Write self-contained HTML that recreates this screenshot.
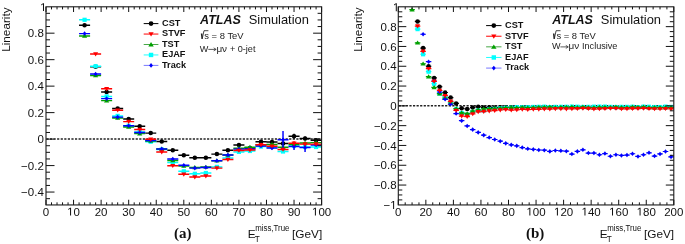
<!DOCTYPE html><html><head><meta charset="utf-8"><style>html,body{margin:0;padding:0;background:#fff;}svg{display:block;will-change:transform;}text{font-family:"Liberation Sans", sans-serif;}</style></head><body>
<svg width="685" height="244" viewBox="0 0 685 244">
<rect width="685" height="244" fill="#fff"/>
<line x1="46.00" y1="139.10" x2="321.60" y2="139.10" stroke="#222" stroke-width="1.5" stroke-dasharray="2.2 1.37" stroke-dashoffset="-0.4"/>
<path d="M79.07,25.20H90.10M90.10,66.80H101.12M101.12,92.00H112.14M112.14,108.50H123.17M123.17,118.90H134.19M134.19,126.20H145.22M145.22,133.10H156.24M156.24,141.40H167.26M167.26,150.20H178.29M178.29,155.30H189.31M189.31,157.80H200.34M200.34,157.80H211.36M211.36,154.10H222.38M222.38,150.20H233.41M233.41,145.00H244.43M244.43,148.00H255.46M255.46,141.70H266.48M266.48,141.90H277.50M277.50,143.50H288.53M288.53,136.20H299.55M294.04,133.70V138.70M299.55,138.40H310.58M305.06,136.40V140.40M310.58,140.20H321.60" stroke="#000000" stroke-width="1.45" fill="none"/>
<circle cx="84.58" cy="25.20" r="2.25" fill="#000000"/><circle cx="95.61" cy="66.80" r="2.25" fill="#000000"/><circle cx="106.63" cy="92.00" r="2.25" fill="#000000"/><circle cx="117.66" cy="108.50" r="2.25" fill="#000000"/><circle cx="128.68" cy="118.90" r="2.25" fill="#000000"/><circle cx="139.70" cy="126.20" r="2.25" fill="#000000"/><circle cx="150.73" cy="133.10" r="2.25" fill="#000000"/><circle cx="161.75" cy="141.40" r="2.25" fill="#000000"/><circle cx="172.78" cy="150.20" r="2.25" fill="#000000"/><circle cx="183.80" cy="155.30" r="2.25" fill="#000000"/><circle cx="194.82" cy="157.80" r="2.25" fill="#000000"/><circle cx="205.85" cy="157.80" r="2.25" fill="#000000"/><circle cx="216.87" cy="154.10" r="2.25" fill="#000000"/><circle cx="227.90" cy="150.20" r="2.25" fill="#000000"/><circle cx="238.92" cy="145.00" r="2.25" fill="#000000"/><circle cx="249.94" cy="148.00" r="2.25" fill="#000000"/><circle cx="260.97" cy="141.70" r="2.25" fill="#000000"/><circle cx="271.99" cy="141.90" r="2.25" fill="#000000"/><circle cx="283.02" cy="143.50" r="2.25" fill="#000000"/><circle cx="294.04" cy="136.20" r="2.25" fill="#000000"/><circle cx="305.06" cy="138.40" r="2.25" fill="#000000"/><circle cx="316.09" cy="140.20" r="2.25" fill="#000000"/>
<path d="M79.07,19.80H90.10M90.10,66.20H101.12M101.12,96.40H112.14M112.14,115.90H123.17M123.17,125.70H134.19M134.19,131.90H145.22M145.22,141.70H156.24M156.24,149.50H167.26M167.26,162.50H178.29M178.29,171.30H189.31M189.31,173.80H200.34M200.34,173.00H211.36M211.36,166.90H222.38M222.38,158.00H233.41M233.41,151.90H244.43M244.43,151.00H255.46M255.46,146.60H266.48M266.48,147.00H277.50M277.50,151.50H288.53M288.53,146.00H299.55M299.55,147.00H310.58M310.58,147.00H321.60" stroke="#00ffff" stroke-width="1.45" fill="none"/>
<rect x="82.48" y="17.70" width="4.20" height="4.20" fill="#00ffff"/><rect x="93.51" y="64.10" width="4.20" height="4.20" fill="#00ffff"/><rect x="104.53" y="94.30" width="4.20" height="4.20" fill="#00ffff"/><rect x="115.56" y="113.80" width="4.20" height="4.20" fill="#00ffff"/><rect x="126.58" y="123.60" width="4.20" height="4.20" fill="#00ffff"/><rect x="137.60" y="129.80" width="4.20" height="4.20" fill="#00ffff"/><rect x="148.63" y="139.60" width="4.20" height="4.20" fill="#00ffff"/><rect x="159.65" y="147.40" width="4.20" height="4.20" fill="#00ffff"/><rect x="170.68" y="160.40" width="4.20" height="4.20" fill="#00ffff"/><rect x="181.70" y="169.20" width="4.20" height="4.20" fill="#00ffff"/><rect x="192.72" y="171.70" width="4.20" height="4.20" fill="#00ffff"/><rect x="203.75" y="170.90" width="4.20" height="4.20" fill="#00ffff"/><rect x="214.77" y="164.80" width="4.20" height="4.20" fill="#00ffff"/><rect x="225.80" y="155.90" width="4.20" height="4.20" fill="#00ffff"/><rect x="236.82" y="149.80" width="4.20" height="4.20" fill="#00ffff"/><rect x="247.84" y="148.90" width="4.20" height="4.20" fill="#00ffff"/><rect x="258.87" y="144.50" width="4.20" height="4.20" fill="#00ffff"/><rect x="269.89" y="144.90" width="4.20" height="4.20" fill="#00ffff"/><rect x="280.92" y="149.40" width="4.20" height="4.20" fill="#00ffff"/><rect x="291.94" y="143.90" width="4.20" height="4.20" fill="#00ffff"/><rect x="302.96" y="144.90" width="4.20" height="4.20" fill="#00ffff"/><rect x="313.99" y="144.90" width="4.20" height="4.20" fill="#00ffff"/>
<path d="M79.07,35.90H90.10M90.10,75.40H101.12M101.12,100.60H112.14M112.14,118.00H123.17M123.17,127.00H134.19M134.19,133.60H145.22M145.22,141.00H156.24M156.24,149.00H167.26M167.26,160.50H178.29M178.29,166.00H189.31M189.31,167.40H200.34M200.34,167.00H211.36M211.36,160.70H222.38M222.38,155.00H233.41M233.41,148.20H244.43M244.43,147.20H255.46M255.46,144.80H266.48M266.48,144.40H277.50M277.50,147.20H288.53M288.53,144.40H299.55M299.55,143.00H310.58M310.58,142.60H321.60" stroke="#00a000" stroke-width="1.45" fill="none"/>
<path d="M81.98,37.72 L87.18,37.72 L84.58,33.56 Z" fill="#00a000"/><path d="M93.01,77.22 L98.21,77.22 L95.61,73.06 Z" fill="#00a000"/><path d="M104.03,102.42 L109.23,102.42 L106.63,98.26 Z" fill="#00a000"/><path d="M115.06,119.82 L120.26,119.82 L117.66,115.66 Z" fill="#00a000"/><path d="M126.08,128.82 L131.28,128.82 L128.68,124.66 Z" fill="#00a000"/><path d="M137.10,135.42 L142.30,135.42 L139.70,131.26 Z" fill="#00a000"/><path d="M148.13,142.82 L153.33,142.82 L150.73,138.66 Z" fill="#00a000"/><path d="M159.15,150.82 L164.35,150.82 L161.75,146.66 Z" fill="#00a000"/><path d="M170.18,162.32 L175.38,162.32 L172.78,158.16 Z" fill="#00a000"/><path d="M181.20,167.82 L186.40,167.82 L183.80,163.66 Z" fill="#00a000"/><path d="M192.22,169.22 L197.42,169.22 L194.82,165.06 Z" fill="#00a000"/><path d="M203.25,168.82 L208.45,168.82 L205.85,164.66 Z" fill="#00a000"/><path d="M214.27,162.52 L219.47,162.52 L216.87,158.36 Z" fill="#00a000"/><path d="M225.30,156.82 L230.50,156.82 L227.90,152.66 Z" fill="#00a000"/><path d="M236.32,150.02 L241.52,150.02 L238.92,145.86 Z" fill="#00a000"/><path d="M247.34,149.02 L252.54,149.02 L249.94,144.86 Z" fill="#00a000"/><path d="M258.37,146.62 L263.57,146.62 L260.97,142.46 Z" fill="#00a000"/><path d="M269.39,146.22 L274.59,146.22 L271.99,142.06 Z" fill="#00a000"/><path d="M280.42,149.02 L285.62,149.02 L283.02,144.86 Z" fill="#00a000"/><path d="M291.44,146.22 L296.64,146.22 L294.04,142.06 Z" fill="#00a000"/><path d="M302.46,144.82 L307.66,144.82 L305.06,140.66 Z" fill="#00a000"/><path d="M313.49,144.42 L318.69,144.42 L316.09,140.26 Z" fill="#00a000"/>
<path d="M79.07,33.60H90.10M90.10,74.00H101.12M101.12,98.60H112.14M112.14,117.10H123.17M123.17,125.70H134.19M134.19,132.50H145.22M145.22,140.50H156.24M156.24,148.90H167.26M167.26,159.00H178.29M178.29,165.20H189.31M189.31,168.10H200.34M200.34,167.40H211.36M211.36,160.70H222.38M222.38,155.00H233.41M233.41,149.10H244.43M244.43,149.00H255.46M255.46,146.00H266.48M266.48,147.90H277.50M271.99,146.40V149.40M277.50,139.80H288.53M283.02,131.00V150.00M288.53,146.50H299.55M294.04,143.50V150.00M299.55,147.50H310.58M305.06,143.00V152.00M310.58,145.00H321.60" stroke="#0000ff" stroke-width="1.45" fill="none"/>
<path d="M84.58,31.30 L86.42,33.60 L84.58,35.90 L82.74,33.60 Z" fill="#0000ff"/><path d="M95.61,71.70 L97.45,74.00 L95.61,76.30 L93.77,74.00 Z" fill="#0000ff"/><path d="M106.63,96.30 L108.47,98.60 L106.63,100.90 L104.79,98.60 Z" fill="#0000ff"/><path d="M117.66,114.80 L119.50,117.10 L117.66,119.40 L115.82,117.10 Z" fill="#0000ff"/><path d="M128.68,123.40 L130.52,125.70 L128.68,128.00 L126.84,125.70 Z" fill="#0000ff"/><path d="M139.70,130.20 L141.54,132.50 L139.70,134.80 L137.86,132.50 Z" fill="#0000ff"/><path d="M150.73,138.20 L152.57,140.50 L150.73,142.80 L148.89,140.50 Z" fill="#0000ff"/><path d="M161.75,146.60 L163.59,148.90 L161.75,151.20 L159.91,148.90 Z" fill="#0000ff"/><path d="M172.78,156.70 L174.62,159.00 L172.78,161.30 L170.94,159.00 Z" fill="#0000ff"/><path d="M183.80,162.90 L185.64,165.20 L183.80,167.50 L181.96,165.20 Z" fill="#0000ff"/><path d="M194.82,165.80 L196.66,168.10 L194.82,170.40 L192.98,168.10 Z" fill="#0000ff"/><path d="M205.85,165.10 L207.69,167.40 L205.85,169.70 L204.01,167.40 Z" fill="#0000ff"/><path d="M216.87,158.40 L218.71,160.70 L216.87,163.00 L215.03,160.70 Z" fill="#0000ff"/><path d="M227.90,152.70 L229.74,155.00 L227.90,157.30 L226.06,155.00 Z" fill="#0000ff"/><path d="M238.92,146.80 L240.76,149.10 L238.92,151.40 L237.08,149.10 Z" fill="#0000ff"/><path d="M249.94,146.70 L251.78,149.00 L249.94,151.30 L248.10,149.00 Z" fill="#0000ff"/><path d="M260.97,143.70 L262.81,146.00 L260.97,148.30 L259.13,146.00 Z" fill="#0000ff"/><path d="M271.99,145.60 L273.83,147.90 L271.99,150.20 L270.15,147.90 Z" fill="#0000ff"/><path d="M283.02,137.50 L284.86,139.80 L283.02,142.10 L281.18,139.80 Z" fill="#0000ff"/><path d="M294.04,144.20 L295.88,146.50 L294.04,148.80 L292.20,146.50 Z" fill="#0000ff"/><path d="M305.06,145.20 L306.90,147.50 L305.06,149.80 L303.22,147.50 Z" fill="#0000ff"/><path d="M316.09,142.70 L317.93,145.00 L316.09,147.30 L314.25,145.00 Z" fill="#0000ff"/>
<path d="M90.10,54.00H101.12M101.12,88.80H112.14M112.14,110.20H123.17M123.17,121.60H134.19M134.19,129.40H145.22M145.22,139.30H156.24M156.24,152.00H167.26M167.26,165.70H178.29M178.29,174.30H189.31M189.31,177.00H200.34M200.34,176.00H211.36M211.36,168.10H222.38M222.38,159.50H233.41M233.41,150.40H244.43M244.43,150.00H255.46M255.46,144.80H266.48M266.48,146.20H277.50M277.50,149.40H288.53M288.53,143.30H299.55M294.04,141.30V145.30M299.55,144.10H310.58M310.58,144.10H321.60" stroke="#ff0000" stroke-width="1.45" fill="none"/>
<path d="M93.11,52.25 L98.11,52.25 L95.61,56.38 Z" fill="#ff0000"/><path d="M104.13,87.05 L109.13,87.05 L106.63,91.17 Z" fill="#ff0000"/><path d="M115.16,108.45 L120.16,108.45 L117.66,112.58 Z" fill="#ff0000"/><path d="M126.18,119.85 L131.18,119.85 L128.68,123.97 Z" fill="#ff0000"/><path d="M137.20,127.65 L142.20,127.65 L139.70,131.78 Z" fill="#ff0000"/><path d="M148.23,137.55 L153.23,137.55 L150.73,141.68 Z" fill="#ff0000"/><path d="M159.25,150.25 L164.25,150.25 L161.75,154.38 Z" fill="#ff0000"/><path d="M170.28,163.95 L175.28,163.95 L172.78,168.07 Z" fill="#ff0000"/><path d="M181.30,172.55 L186.30,172.55 L183.80,176.68 Z" fill="#ff0000"/><path d="M192.32,175.25 L197.32,175.25 L194.82,179.38 Z" fill="#ff0000"/><path d="M203.35,174.25 L208.35,174.25 L205.85,178.38 Z" fill="#ff0000"/><path d="M214.37,166.35 L219.37,166.35 L216.87,170.47 Z" fill="#ff0000"/><path d="M225.40,157.75 L230.40,157.75 L227.90,161.88 Z" fill="#ff0000"/><path d="M236.42,148.65 L241.42,148.65 L238.92,152.78 Z" fill="#ff0000"/><path d="M247.44,148.25 L252.44,148.25 L249.94,152.38 Z" fill="#ff0000"/><path d="M258.47,143.05 L263.47,143.05 L260.97,147.18 Z" fill="#ff0000"/><path d="M269.49,144.45 L274.49,144.45 L271.99,148.57 Z" fill="#ff0000"/><path d="M280.52,147.65 L285.52,147.65 L283.02,151.78 Z" fill="#ff0000"/><path d="M291.54,141.55 L296.54,141.55 L294.04,145.68 Z" fill="#ff0000"/><path d="M302.56,142.35 L307.56,142.35 L305.06,146.47 Z" fill="#ff0000"/><path d="M313.59,142.35 L318.59,142.35 L316.09,146.47 Z" fill="#ff0000"/>
<path d="M46.00,204.95V199.75M46.00,6.80V12.00M51.51,204.95V202.35M51.51,6.80V9.40M57.02,204.95V202.35M57.02,6.80V9.40M62.54,204.95V202.35M62.54,6.80V9.40M68.05,204.95V202.35M68.05,6.80V9.40M73.56,204.95V199.75M73.56,6.80V12.00M79.07,204.95V202.35M79.07,6.80V9.40M84.58,204.95V202.35M84.58,6.80V9.40M90.10,204.95V202.35M90.10,6.80V9.40M95.61,204.95V202.35M95.61,6.80V9.40M101.12,204.95V199.75M101.12,6.80V12.00M106.63,204.95V202.35M106.63,6.80V9.40M112.14,204.95V202.35M112.14,6.80V9.40M117.66,204.95V202.35M117.66,6.80V9.40M123.17,204.95V202.35M123.17,6.80V9.40M128.68,204.95V199.75M128.68,6.80V12.00M134.19,204.95V202.35M134.19,6.80V9.40M139.70,204.95V202.35M139.70,6.80V9.40M145.22,204.95V202.35M145.22,6.80V9.40M150.73,204.95V202.35M150.73,6.80V9.40M156.24,204.95V199.75M156.24,6.80V12.00M161.75,204.95V202.35M161.75,6.80V9.40M167.26,204.95V202.35M167.26,6.80V9.40M172.78,204.95V202.35M172.78,6.80V9.40M178.29,204.95V202.35M178.29,6.80V9.40M183.80,204.95V199.75M183.80,6.80V12.00M189.31,204.95V202.35M189.31,6.80V9.40M194.82,204.95V202.35M194.82,6.80V9.40M200.34,204.95V202.35M200.34,6.80V9.40M205.85,204.95V202.35M205.85,6.80V9.40M211.36,204.95V199.75M211.36,6.80V12.00M216.87,204.95V202.35M216.87,6.80V9.40M222.38,204.95V202.35M222.38,6.80V9.40M227.90,204.95V202.35M227.90,6.80V9.40M233.41,204.95V202.35M233.41,6.80V9.40M238.92,204.95V199.75M238.92,6.80V12.00M244.43,204.95V202.35M244.43,6.80V9.40M249.94,204.95V202.35M249.94,6.80V9.40M255.46,204.95V202.35M255.46,6.80V9.40M260.97,204.95V202.35M260.97,6.80V9.40M266.48,204.95V199.75M266.48,6.80V12.00M271.99,204.95V202.35M271.99,6.80V9.40M277.50,204.95V202.35M277.50,6.80V9.40M283.02,204.95V202.35M283.02,6.80V9.40M288.53,204.95V202.35M288.53,6.80V9.40M294.04,204.95V199.75M294.04,6.80V12.00M299.55,204.95V202.35M299.55,6.80V9.40M305.06,204.95V202.35M305.06,6.80V9.40M310.58,204.95V202.35M310.58,6.80V9.40M316.09,204.95V202.35M316.09,6.80V9.40M321.60,204.95V199.75M321.60,6.80V12.00M46.00,198.68H50.00M321.60,198.68H317.60M46.00,192.06H54.50M321.60,192.06H313.10M46.00,185.44H50.00M321.60,185.44H317.60M46.00,178.82H50.00M321.60,178.82H317.60M46.00,172.20H50.00M321.60,172.20H317.60M46.00,165.58H54.50M321.60,165.58H313.10M46.00,158.96H50.00M321.60,158.96H317.60M46.00,152.34H50.00M321.60,152.34H317.60M46.00,145.72H50.00M321.60,145.72H317.60M46.00,139.10H54.50M321.60,139.10H313.10M46.00,132.48H50.00M321.60,132.48H317.60M46.00,125.86H50.00M321.60,125.86H317.60M46.00,119.24H50.00M321.60,119.24H317.60M46.00,112.62H54.50M321.60,112.62H313.10M46.00,106.00H50.00M321.60,106.00H317.60M46.00,99.38H50.00M321.60,99.38H317.60M46.00,92.76H50.00M321.60,92.76H317.60M46.00,86.14H54.50M321.60,86.14H313.10M46.00,79.52H50.00M321.60,79.52H317.60M46.00,72.90H50.00M321.60,72.90H317.60M46.00,66.28H50.00M321.60,66.28H317.60M46.00,59.66H54.50M321.60,59.66H313.10M46.00,53.04H50.00M321.60,53.04H317.60M46.00,46.42H50.00M321.60,46.42H317.60M46.00,39.80H50.00M321.60,39.80H317.60M46.00,33.18H54.50M321.60,33.18H313.10M46.00,26.56H50.00M321.60,26.56H317.60M46.00,19.94H50.00M321.60,19.94H317.60M46.00,13.32H50.00M321.60,13.32H317.60" stroke="#111" stroke-width="1" fill="none"/>
<rect x="46.00" y="6.80" width="275.60" height="198.15" stroke="#1a1a1a" stroke-width="1.1" fill="none"/>
<line x1="398.30" y1="105.85" x2="673.80" y2="105.85" stroke="#222" stroke-width="1.5" stroke-dasharray="2.2 1.37" stroke-dashoffset="-0.4"/>
<path d="M414.83,21.40H420.34M420.34,48.03H425.85M425.85,66.25H431.36M431.36,77.93H436.87M436.87,86.74H442.38M442.38,92.48H447.89M447.89,97.53H453.40M453.40,103.47H458.91M458.91,108.32H464.42M464.42,109.02H469.93M469.93,107.53H475.44M475.44,106.74H480.95M480.95,107.40H486.46M486.46,107.32H491.97M491.97,107.52H497.48M497.48,107.36H502.99M502.99,107.28H508.50M508.50,107.15H514.01M514.01,107.48H519.52M519.52,107.46H525.03M525.03,107.32H530.54M530.54,107.26H536.05M536.05,107.35H541.56M541.56,107.44H547.07M547.07,107.24H552.58M552.58,107.37H558.09M558.09,107.52H563.60M563.60,107.19H569.11M569.11,107.30H574.62M574.62,107.35H580.13M580.13,107.28H585.64M585.64,107.38H591.15M591.15,107.47H596.66M596.66,107.48H602.17M602.17,107.50H607.68M607.68,107.21H613.19M613.19,107.39H618.70M618.70,107.46H624.21M624.21,107.30H629.72M629.72,107.39H635.23M635.23,107.33H640.74M640.74,107.18H646.25M646.25,107.38H651.76M651.76,107.51H657.27M657.27,107.40H662.78M662.78,107.49H668.29M668.29,107.29H673.80" stroke="#000000" stroke-width="1.2" fill="none"/>
<circle cx="417.59" cy="21.40" r="2.25" fill="#000000"/><circle cx="423.10" cy="48.03" r="2.25" fill="#000000"/><circle cx="428.61" cy="66.25" r="2.25" fill="#000000"/><circle cx="434.12" cy="77.93" r="2.25" fill="#000000"/><circle cx="439.62" cy="86.74" r="2.25" fill="#000000"/><circle cx="445.13" cy="92.48" r="2.25" fill="#000000"/><circle cx="450.64" cy="97.53" r="2.25" fill="#000000"/><circle cx="456.15" cy="103.47" r="2.25" fill="#000000"/><circle cx="461.67" cy="108.32" r="2.25" fill="#000000"/><circle cx="467.18" cy="109.02" r="2.25" fill="#000000"/><circle cx="472.69" cy="107.53" r="2.25" fill="#000000"/><circle cx="478.19" cy="106.74" r="2.25" fill="#000000"/><circle cx="483.70" cy="107.40" r="2.25" fill="#000000"/><circle cx="489.22" cy="107.32" r="2.25" fill="#000000"/><circle cx="494.72" cy="107.52" r="2.25" fill="#000000"/><circle cx="500.24" cy="107.36" r="2.25" fill="#000000"/><circle cx="505.75" cy="107.28" r="2.25" fill="#000000"/><circle cx="511.25" cy="107.15" r="2.25" fill="#000000"/><circle cx="516.76" cy="107.48" r="2.25" fill="#000000"/><circle cx="522.27" cy="107.46" r="2.25" fill="#000000"/><circle cx="527.78" cy="107.32" r="2.25" fill="#000000"/><circle cx="533.29" cy="107.26" r="2.25" fill="#000000"/><circle cx="538.80" cy="107.35" r="2.25" fill="#000000"/><circle cx="544.32" cy="107.44" r="2.25" fill="#000000"/><circle cx="549.83" cy="107.24" r="2.25" fill="#000000"/><circle cx="555.34" cy="107.37" r="2.25" fill="#000000"/><circle cx="560.85" cy="107.52" r="2.25" fill="#000000"/><circle cx="566.36" cy="107.19" r="2.25" fill="#000000"/><circle cx="571.87" cy="107.30" r="2.25" fill="#000000"/><circle cx="577.38" cy="107.35" r="2.25" fill="#000000"/><circle cx="582.88" cy="107.28" r="2.25" fill="#000000"/><circle cx="588.39" cy="107.38" r="2.25" fill="#000000"/><circle cx="593.90" cy="107.47" r="2.25" fill="#000000"/><circle cx="599.41" cy="107.48" r="2.25" fill="#000000"/><circle cx="604.92" cy="107.50" r="2.25" fill="#000000"/><circle cx="610.43" cy="107.21" r="2.25" fill="#000000"/><circle cx="615.94" cy="107.39" r="2.25" fill="#000000"/><circle cx="621.45" cy="107.46" r="2.25" fill="#000000"/><circle cx="626.96" cy="107.30" r="2.25" fill="#000000"/><circle cx="632.47" cy="107.39" r="2.25" fill="#000000"/><circle cx="637.98" cy="107.33" r="2.25" fill="#000000"/><circle cx="643.50" cy="107.18" r="2.25" fill="#000000"/><circle cx="649.00" cy="107.38" r="2.25" fill="#000000"/><circle cx="654.51" cy="107.51" r="2.25" fill="#000000"/><circle cx="660.02" cy="107.40" r="2.25" fill="#000000"/><circle cx="665.53" cy="107.49" r="2.25" fill="#000000"/><circle cx="671.04" cy="107.29" r="2.25" fill="#000000"/>
<path d="M414.83,29.12H420.34M420.34,54.27H425.85M425.85,71.69H431.36M431.36,83.77H436.87M436.87,93.57H442.38M442.38,96.94H447.89M447.89,101.99H453.40M453.40,109.02H458.91M458.91,112.98H464.42M464.42,114.56H469.93M469.93,111.99H475.44M475.44,110.50H480.95M480.95,110.56H486.46M486.46,109.32H491.97M491.97,108.86H497.48M497.48,108.28H502.99M502.99,107.81H508.50M508.50,107.62H514.01M514.01,107.12H519.52M519.52,107.25H525.03M525.03,107.26H530.54M530.54,106.96H536.05M536.05,106.85H541.56M541.56,106.71H547.07M547.07,107.13H552.58M552.58,106.89H558.09M558.09,106.83H563.60M563.60,106.81H569.11M569.11,106.59H574.62M574.62,106.73H580.13M580.13,106.98H585.64M585.64,106.87H591.15M591.15,106.69H596.66M596.66,106.62H602.17M602.17,106.61H607.68M607.68,106.89H613.19M613.19,107.05H618.70M618.70,106.85H624.21M624.21,106.89H629.72M629.72,106.73H635.23M635.23,107.11H640.74M640.74,106.66H646.25M646.25,106.76H651.76M651.76,107.04H657.27M657.27,107.05H662.78M662.78,106.62H668.29M668.29,106.93H673.80" stroke="#00ffff" stroke-width="1.2" fill="none"/>
<rect x="415.49" y="27.02" width="4.20" height="4.20" fill="#00ffff"/><rect x="421.00" y="52.17" width="4.20" height="4.20" fill="#00ffff"/><rect x="426.50" y="69.59" width="4.20" height="4.20" fill="#00ffff"/><rect x="432.01" y="81.67" width="4.20" height="4.20" fill="#00ffff"/><rect x="437.52" y="91.47" width="4.20" height="4.20" fill="#00ffff"/><rect x="443.03" y="94.84" width="4.20" height="4.20" fill="#00ffff"/><rect x="448.54" y="99.89" width="4.20" height="4.20" fill="#00ffff"/><rect x="454.05" y="106.92" width="4.20" height="4.20" fill="#00ffff"/><rect x="459.56" y="110.88" width="4.20" height="4.20" fill="#00ffff"/><rect x="465.07" y="112.46" width="4.20" height="4.20" fill="#00ffff"/><rect x="470.58" y="109.89" width="4.20" height="4.20" fill="#00ffff"/><rect x="476.09" y="108.40" width="4.20" height="4.20" fill="#00ffff"/><rect x="481.60" y="108.46" width="4.20" height="4.20" fill="#00ffff"/><rect x="487.12" y="107.22" width="4.20" height="4.20" fill="#00ffff"/><rect x="492.62" y="106.76" width="4.20" height="4.20" fill="#00ffff"/><rect x="498.13" y="106.18" width="4.20" height="4.20" fill="#00ffff"/><rect x="503.64" y="105.71" width="4.20" height="4.20" fill="#00ffff"/><rect x="509.15" y="105.52" width="4.20" height="4.20" fill="#00ffff"/><rect x="514.66" y="105.02" width="4.20" height="4.20" fill="#00ffff"/><rect x="520.17" y="105.15" width="4.20" height="4.20" fill="#00ffff"/><rect x="525.68" y="105.16" width="4.20" height="4.20" fill="#00ffff"/><rect x="531.19" y="104.86" width="4.20" height="4.20" fill="#00ffff"/><rect x="536.70" y="104.75" width="4.20" height="4.20" fill="#00ffff"/><rect x="542.22" y="104.61" width="4.20" height="4.20" fill="#00ffff"/><rect x="547.73" y="105.03" width="4.20" height="4.20" fill="#00ffff"/><rect x="553.24" y="104.79" width="4.20" height="4.20" fill="#00ffff"/><rect x="558.75" y="104.73" width="4.20" height="4.20" fill="#00ffff"/><rect x="564.25" y="104.71" width="4.20" height="4.20" fill="#00ffff"/><rect x="569.76" y="104.49" width="4.20" height="4.20" fill="#00ffff"/><rect x="575.27" y="104.63" width="4.20" height="4.20" fill="#00ffff"/><rect x="580.78" y="104.88" width="4.20" height="4.20" fill="#00ffff"/><rect x="586.29" y="104.77" width="4.20" height="4.20" fill="#00ffff"/><rect x="591.80" y="104.59" width="4.20" height="4.20" fill="#00ffff"/><rect x="597.31" y="104.52" width="4.20" height="4.20" fill="#00ffff"/><rect x="602.82" y="104.51" width="4.20" height="4.20" fill="#00ffff"/><rect x="608.33" y="104.79" width="4.20" height="4.20" fill="#00ffff"/><rect x="613.84" y="104.95" width="4.20" height="4.20" fill="#00ffff"/><rect x="619.35" y="104.75" width="4.20" height="4.20" fill="#00ffff"/><rect x="624.86" y="104.79" width="4.20" height="4.20" fill="#00ffff"/><rect x="630.37" y="104.63" width="4.20" height="4.20" fill="#00ffff"/><rect x="635.88" y="105.01" width="4.20" height="4.20" fill="#00ffff"/><rect x="641.39" y="104.56" width="4.20" height="4.20" fill="#00ffff"/><rect x="646.90" y="104.66" width="4.20" height="4.20" fill="#00ffff"/><rect x="652.41" y="104.94" width="4.20" height="4.20" fill="#00ffff"/><rect x="657.92" y="104.95" width="4.20" height="4.20" fill="#00ffff"/><rect x="663.43" y="104.52" width="4.20" height="4.20" fill="#00ffff"/><rect x="668.94" y="104.83" width="4.20" height="4.20" fill="#00ffff"/>
<path d="M409.32,9.62H414.83M414.83,42.79H420.34M420.34,63.77H425.85M425.85,76.64H431.36M431.36,87.44H436.87M436.87,93.57H442.38M442.38,98.03H447.89M447.89,102.98H453.40M453.40,108.52H458.91M458.91,112.78H464.42M464.42,113.47H469.93M469.93,111.00H475.44M475.44,109.81H480.95M480.95,108.73H486.46M486.46,108.61H491.97M491.97,108.26H497.48M497.48,107.98H502.99M502.99,107.53H508.50M508.50,107.24H514.01M514.01,107.48H519.52M519.52,107.22H525.03M525.03,107.52H530.54M530.54,107.33H536.05M536.05,107.02H541.56M541.56,107.17H547.07M547.07,106.88H552.58M552.58,107.37H558.09M558.09,107.00H563.60M563.60,107.03H569.11M569.11,106.94H574.62M574.62,107.40H580.13M580.13,106.95H585.64M585.64,107.42H591.15M591.15,107.40H596.66M596.66,107.20H602.17M602.17,107.11H607.68M607.68,107.27H613.19M613.19,106.87H618.70M618.70,107.30H624.21M624.21,107.43H629.72M629.72,106.87H635.23M635.23,107.03H640.74M640.74,106.91H646.25M646.25,107.37H651.76M651.76,107.31H657.27M657.27,107.43H662.78M662.78,107.42H668.29M668.29,107.28H673.80" stroke="#00a000" stroke-width="1.2" fill="none"/>
<path d="M409.47,11.44 L414.68,11.44 L412.07,7.28 Z" fill="#00a000"/><path d="M414.99,44.61 L420.19,44.61 L417.59,40.45 Z" fill="#00a000"/><path d="M420.50,65.59 L425.70,65.59 L423.10,61.43 Z" fill="#00a000"/><path d="M426.00,78.46 L431.21,78.46 L428.61,74.30 Z" fill="#00a000"/><path d="M431.51,89.26 L436.72,89.26 L434.12,85.10 Z" fill="#00a000"/><path d="M437.02,95.39 L442.23,95.39 L439.62,91.23 Z" fill="#00a000"/><path d="M442.53,99.85 L447.74,99.85 L445.13,95.69 Z" fill="#00a000"/><path d="M448.04,104.80 L453.25,104.80 L450.64,100.64 Z" fill="#00a000"/><path d="M453.55,110.34 L458.75,110.34 L456.15,106.18 Z" fill="#00a000"/><path d="M459.06,114.60 L464.27,114.60 L461.67,110.44 Z" fill="#00a000"/><path d="M464.57,115.29 L469.78,115.29 L467.18,111.13 Z" fill="#00a000"/><path d="M470.08,112.82 L475.29,112.82 L472.69,108.66 Z" fill="#00a000"/><path d="M475.59,111.63 L480.80,111.63 L478.19,107.47 Z" fill="#00a000"/><path d="M481.10,110.55 L486.31,110.55 L483.70,106.39 Z" fill="#00a000"/><path d="M486.62,110.43 L491.82,110.43 L489.22,106.27 Z" fill="#00a000"/><path d="M492.12,110.08 L497.32,110.08 L494.72,105.92 Z" fill="#00a000"/><path d="M497.63,109.80 L502.84,109.80 L500.24,105.64 Z" fill="#00a000"/><path d="M503.14,109.35 L508.35,109.35 L505.75,105.19 Z" fill="#00a000"/><path d="M508.65,109.06 L513.86,109.06 L511.25,104.90 Z" fill="#00a000"/><path d="M514.16,109.30 L519.37,109.30 L516.76,105.14 Z" fill="#00a000"/><path d="M519.67,109.04 L524.88,109.04 L522.27,104.88 Z" fill="#00a000"/><path d="M525.18,109.34 L530.38,109.34 L527.78,105.18 Z" fill="#00a000"/><path d="M530.69,109.15 L535.89,109.15 L533.29,104.99 Z" fill="#00a000"/><path d="M536.20,108.84 L541.40,108.84 L538.80,104.68 Z" fill="#00a000"/><path d="M541.72,108.99 L546.92,108.99 L544.32,104.83 Z" fill="#00a000"/><path d="M547.23,108.70 L552.43,108.70 L549.83,104.54 Z" fill="#00a000"/><path d="M552.74,109.19 L557.94,109.19 L555.34,105.03 Z" fill="#00a000"/><path d="M558.25,108.82 L563.45,108.82 L560.85,104.66 Z" fill="#00a000"/><path d="M563.75,108.85 L568.96,108.85 L566.36,104.69 Z" fill="#00a000"/><path d="M569.26,108.76 L574.47,108.76 L571.87,104.60 Z" fill="#00a000"/><path d="M574.77,109.22 L579.98,109.22 L577.38,105.06 Z" fill="#00a000"/><path d="M580.28,108.77 L585.49,108.77 L582.88,104.61 Z" fill="#00a000"/><path d="M585.79,109.24 L591.00,109.24 L588.39,105.08 Z" fill="#00a000"/><path d="M591.30,109.22 L596.50,109.22 L593.90,105.06 Z" fill="#00a000"/><path d="M596.81,109.02 L602.01,109.02 L599.41,104.86 Z" fill="#00a000"/><path d="M602.32,108.93 L607.52,108.93 L604.92,104.77 Z" fill="#00a000"/><path d="M607.83,109.09 L613.03,109.09 L610.43,104.93 Z" fill="#00a000"/><path d="M613.34,108.69 L618.54,108.69 L615.94,104.53 Z" fill="#00a000"/><path d="M618.85,109.12 L624.05,109.12 L621.45,104.96 Z" fill="#00a000"/><path d="M624.36,109.25 L629.56,109.25 L626.96,105.09 Z" fill="#00a000"/><path d="M629.87,108.69 L635.07,108.69 L632.47,104.53 Z" fill="#00a000"/><path d="M635.38,108.85 L640.58,108.85 L637.98,104.69 Z" fill="#00a000"/><path d="M640.89,108.73 L646.10,108.73 L643.50,104.57 Z" fill="#00a000"/><path d="M646.40,109.19 L651.61,109.19 L649.00,105.03 Z" fill="#00a000"/><path d="M651.91,109.13 L657.12,109.13 L654.51,104.97 Z" fill="#00a000"/><path d="M657.42,109.25 L662.62,109.25 L660.02,105.09 Z" fill="#00a000"/><path d="M662.93,109.24 L668.13,109.24 L665.53,105.08 Z" fill="#00a000"/><path d="M668.44,109.10 L673.64,109.10 L671.04,104.94 Z" fill="#00a000"/>
<path d="M420.34,34.27H425.85M425.85,61.70H431.36M431.36,81.00H436.87M436.87,91.99H442.38M442.38,99.32H447.89M447.89,104.27H453.40M453.40,113.57H458.91M458.91,120.70H464.42M464.42,125.95H469.93M469.93,129.61H475.44M475.44,132.38H480.95M480.95,135.15H486.46M486.46,137.53H491.97M491.97,139.51H497.48M497.48,141.19H502.99M502.99,143.37H508.50M508.50,144.86H514.01M514.01,145.85H519.52M519.52,147.53H525.03M525.03,148.82H530.54M530.54,149.41H536.05M536.05,150.00H541.56M541.56,150.20H547.07M547.07,151.39H552.58M552.58,150.50H558.09M558.09,150.80H563.60M563.60,151.19H569.11M569.11,154.06H574.62M574.62,151.39H580.13M580.13,149.81H585.64M585.64,153.07H591.15M591.15,153.07H596.66M596.66,154.76H602.17M602.17,153.57H607.68M607.68,156.24H613.19M613.19,154.76H618.70M618.70,155.45H624.21M624.21,155.05H629.72M629.72,153.77H635.23M635.23,156.44H640.74M640.74,154.76H646.25M646.25,152.78H651.76M651.76,156.04H657.27M657.27,153.96H662.78M662.78,151.49H668.29M668.29,156.83H673.80" stroke="#0000ff" stroke-width="1.2" fill="none"/>
<path d="M423.10,31.97 L424.94,34.27 L423.10,36.57 L421.26,34.27 Z" fill="#0000ff"/><path d="M428.61,59.40 L430.44,61.70 L428.61,64.00 L426.77,61.70 Z" fill="#0000ff"/><path d="M434.12,78.70 L435.95,81.00 L434.12,83.30 L432.28,81.00 Z" fill="#0000ff"/><path d="M439.62,89.69 L441.46,91.99 L439.62,94.29 L437.79,91.99 Z" fill="#0000ff"/><path d="M445.13,97.02 L446.97,99.32 L445.13,101.62 L443.30,99.32 Z" fill="#0000ff"/><path d="M450.64,101.97 L452.48,104.27 L450.64,106.57 L448.81,104.27 Z" fill="#0000ff"/><path d="M456.15,111.27 L457.99,113.57 L456.15,115.87 L454.31,113.57 Z" fill="#0000ff"/><path d="M461.67,118.40 L463.50,120.70 L461.67,123.00 L459.83,120.70 Z" fill="#0000ff"/><path d="M467.18,123.65 L469.01,125.95 L467.18,128.25 L465.34,125.95 Z" fill="#0000ff"/><path d="M472.69,127.31 L474.52,129.61 L472.69,131.91 L470.85,129.61 Z" fill="#0000ff"/><path d="M478.19,130.08 L480.03,132.38 L478.19,134.68 L476.36,132.38 Z" fill="#0000ff"/><path d="M483.70,132.85 L485.54,135.15 L483.70,137.45 L481.87,135.15 Z" fill="#0000ff"/><path d="M489.22,135.23 L491.06,137.53 L489.22,139.83 L487.38,137.53 Z" fill="#0000ff"/><path d="M494.72,137.21 L496.56,139.51 L494.72,141.81 L492.88,139.51 Z" fill="#0000ff"/><path d="M500.24,138.89 L502.07,141.19 L500.24,143.49 L498.40,141.19 Z" fill="#0000ff"/><path d="M505.75,141.07 L507.58,143.37 L505.75,145.67 L503.91,143.37 Z" fill="#0000ff"/><path d="M511.25,142.56 L513.10,144.86 L511.25,147.16 L509.42,144.86 Z" fill="#0000ff"/><path d="M516.76,143.55 L518.61,145.85 L516.76,148.15 L514.92,145.85 Z" fill="#0000ff"/><path d="M522.27,145.23 L524.12,147.53 L522.27,149.83 L520.43,147.53 Z" fill="#0000ff"/><path d="M527.78,146.52 L529.62,148.82 L527.78,151.12 L525.94,148.82 Z" fill="#0000ff"/><path d="M533.29,147.11 L535.13,149.41 L533.29,151.71 L531.45,149.41 Z" fill="#0000ff"/><path d="M538.80,147.70 L540.64,150.00 L538.80,152.30 L536.96,150.00 Z" fill="#0000ff"/><path d="M544.32,147.90 L546.16,150.20 L544.32,152.50 L542.48,150.20 Z" fill="#0000ff"/><path d="M549.83,149.09 L551.67,151.39 L549.83,153.69 L547.99,151.39 Z" fill="#0000ff"/><path d="M555.34,148.20 L557.18,150.50 L555.34,152.80 L553.50,150.50 Z" fill="#0000ff"/><path d="M560.85,148.50 L562.69,150.80 L560.85,153.10 L559.00,150.80 Z" fill="#0000ff"/><path d="M566.36,148.89 L568.20,151.19 L566.36,153.49 L564.51,151.19 Z" fill="#0000ff"/><path d="M571.87,151.76 L573.71,154.06 L571.87,156.36 L570.02,154.06 Z" fill="#0000ff"/><path d="M577.38,149.09 L579.22,151.39 L577.38,153.69 L575.53,151.39 Z" fill="#0000ff"/><path d="M582.88,147.51 L584.73,149.81 L582.88,152.11 L581.04,149.81 Z" fill="#0000ff"/><path d="M588.39,150.77 L590.24,153.07 L588.39,155.37 L586.55,153.07 Z" fill="#0000ff"/><path d="M593.90,150.77 L595.75,153.07 L593.90,155.37 L592.06,153.07 Z" fill="#0000ff"/><path d="M599.41,152.46 L601.25,154.76 L599.41,157.06 L597.57,154.76 Z" fill="#0000ff"/><path d="M604.92,151.27 L606.76,153.57 L604.92,155.87 L603.08,153.57 Z" fill="#0000ff"/><path d="M610.43,153.94 L612.27,156.24 L610.43,158.54 L608.59,156.24 Z" fill="#0000ff"/><path d="M615.94,152.46 L617.78,154.76 L615.94,157.06 L614.10,154.76 Z" fill="#0000ff"/><path d="M621.45,153.15 L623.29,155.45 L621.45,157.75 L619.61,155.45 Z" fill="#0000ff"/><path d="M626.96,152.75 L628.80,155.05 L626.96,157.35 L625.12,155.05 Z" fill="#0000ff"/><path d="M632.47,151.47 L634.31,153.77 L632.47,156.07 L630.63,153.77 Z" fill="#0000ff"/><path d="M637.98,154.14 L639.82,156.44 L637.98,158.74 L636.14,156.44 Z" fill="#0000ff"/><path d="M643.50,152.46 L645.34,154.76 L643.50,157.06 L641.65,154.76 Z" fill="#0000ff"/><path d="M649.00,150.48 L650.85,152.78 L649.00,155.08 L647.16,152.78 Z" fill="#0000ff"/><path d="M654.51,153.74 L656.36,156.04 L654.51,158.34 L652.67,156.04 Z" fill="#0000ff"/><path d="M660.02,151.66 L661.86,153.96 L660.02,156.26 L658.18,153.96 Z" fill="#0000ff"/><path d="M665.53,149.19 L667.38,151.49 L665.53,153.79 L663.69,151.49 Z" fill="#0000ff"/><path d="M671.04,154.53 L672.88,156.83 L671.04,159.13 L669.20,156.83 Z" fill="#0000ff"/>
<path d="M414.83,26.06H420.34M420.34,51.30H425.85M425.85,68.72H431.36M431.36,81.30H436.87M436.87,90.50H442.38M442.38,95.65H447.89M447.89,101.30H453.40M453.40,110.40H458.91M458.91,116.05H464.42M464.42,116.54H469.93M469.93,113.97H475.44M475.44,111.79H480.95M480.95,111.57H486.46M486.46,111.01H491.97M491.97,110.62H497.48M497.48,110.02H502.99M502.99,109.68H508.50M508.50,110.18H514.01M514.01,109.95H519.52M519.52,109.43H525.03M525.03,109.71H530.54M530.54,109.31H536.05M536.05,109.32H541.56M541.56,109.02H547.07M547.07,109.18H552.58M552.58,108.75H558.09M558.09,108.77H563.60M563.60,109.01H569.11M569.11,108.86H574.62M574.62,108.67H580.13M580.13,108.38H585.64M585.64,108.62H591.15M591.15,109.03H596.66M596.66,108.91H602.17M602.17,108.74H607.68M607.68,108.40H613.19M613.19,108.38H618.70M618.70,108.88H624.21M624.21,108.85H629.72M629.72,108.61H635.23M635.23,108.56H640.74M640.74,108.43H646.25M646.25,108.72H651.76M651.76,108.98H657.27M657.27,108.99H662.78M662.78,108.74H668.29M668.29,108.91H673.80" stroke="#ff0000" stroke-width="1.2" fill="none"/>
<path d="M415.09,24.31 L420.09,24.31 L417.59,28.43 Z" fill="#ff0000"/><path d="M420.60,49.55 L425.60,49.55 L423.10,53.68 Z" fill="#ff0000"/><path d="M426.11,66.97 L431.11,66.97 L428.61,71.10 Z" fill="#ff0000"/><path d="M431.62,79.55 L436.62,79.55 L434.12,83.67 Z" fill="#ff0000"/><path d="M437.12,88.75 L442.12,88.75 L439.62,92.88 Z" fill="#ff0000"/><path d="M442.63,93.90 L447.63,93.90 L445.13,98.03 Z" fill="#ff0000"/><path d="M448.14,99.55 L453.14,99.55 L450.64,103.67 Z" fill="#ff0000"/><path d="M453.65,108.65 L458.65,108.65 L456.15,112.78 Z" fill="#ff0000"/><path d="M459.17,114.30 L464.17,114.30 L461.67,118.42 Z" fill="#ff0000"/><path d="M464.68,114.79 L469.68,114.79 L467.18,118.92 Z" fill="#ff0000"/><path d="M470.19,112.22 L475.19,112.22 L472.69,116.34 Z" fill="#ff0000"/><path d="M475.69,110.04 L480.69,110.04 L478.19,114.16 Z" fill="#ff0000"/><path d="M481.20,109.82 L486.20,109.82 L483.70,113.95 Z" fill="#ff0000"/><path d="M486.72,109.26 L491.72,109.26 L489.22,113.38 Z" fill="#ff0000"/><path d="M492.22,108.87 L497.22,108.87 L494.72,112.99 Z" fill="#ff0000"/><path d="M497.74,108.27 L502.74,108.27 L500.24,112.39 Z" fill="#ff0000"/><path d="M503.25,107.93 L508.25,107.93 L505.75,112.05 Z" fill="#ff0000"/><path d="M508.75,108.43 L513.75,108.43 L511.25,112.56 Z" fill="#ff0000"/><path d="M514.26,108.20 L519.26,108.20 L516.76,112.32 Z" fill="#ff0000"/><path d="M519.77,107.68 L524.77,107.68 L522.27,111.80 Z" fill="#ff0000"/><path d="M525.28,107.96 L530.28,107.96 L527.78,112.09 Z" fill="#ff0000"/><path d="M530.79,107.56 L535.79,107.56 L533.29,111.69 Z" fill="#ff0000"/><path d="M536.30,107.57 L541.30,107.57 L538.80,111.70 Z" fill="#ff0000"/><path d="M541.82,107.27 L546.82,107.27 L544.32,111.40 Z" fill="#ff0000"/><path d="M547.33,107.43 L552.33,107.43 L549.83,111.56 Z" fill="#ff0000"/><path d="M552.84,107.00 L557.84,107.00 L555.34,111.13 Z" fill="#ff0000"/><path d="M558.35,107.02 L563.35,107.02 L560.85,111.15 Z" fill="#ff0000"/><path d="M563.86,107.26 L568.86,107.26 L566.36,111.39 Z" fill="#ff0000"/><path d="M569.37,107.11 L574.37,107.11 L571.87,111.24 Z" fill="#ff0000"/><path d="M574.88,106.92 L579.88,106.92 L577.38,111.04 Z" fill="#ff0000"/><path d="M580.38,106.63 L585.38,106.63 L582.88,110.76 Z" fill="#ff0000"/><path d="M585.89,106.87 L590.89,106.87 L588.39,110.99 Z" fill="#ff0000"/><path d="M591.40,107.28 L596.40,107.28 L593.90,111.41 Z" fill="#ff0000"/><path d="M596.91,107.16 L601.91,107.16 L599.41,111.29 Z" fill="#ff0000"/><path d="M602.42,106.99 L607.42,106.99 L604.92,111.12 Z" fill="#ff0000"/><path d="M607.93,106.65 L612.93,106.65 L610.43,110.78 Z" fill="#ff0000"/><path d="M613.44,106.63 L618.44,106.63 L615.94,110.75 Z" fill="#ff0000"/><path d="M618.95,107.13 L623.95,107.13 L621.45,111.26 Z" fill="#ff0000"/><path d="M624.46,107.10 L629.46,107.10 L626.96,111.23 Z" fill="#ff0000"/><path d="M629.97,106.86 L634.97,106.86 L632.47,110.98 Z" fill="#ff0000"/><path d="M635.48,106.81 L640.48,106.81 L637.98,110.93 Z" fill="#ff0000"/><path d="M641.00,106.68 L646.00,106.68 L643.50,110.80 Z" fill="#ff0000"/><path d="M646.50,106.97 L651.50,106.97 L649.00,111.10 Z" fill="#ff0000"/><path d="M652.01,107.23 L657.01,107.23 L654.51,111.36 Z" fill="#ff0000"/><path d="M657.52,107.24 L662.52,107.24 L660.02,111.37 Z" fill="#ff0000"/><path d="M663.03,106.99 L668.03,106.99 L665.53,111.12 Z" fill="#ff0000"/><path d="M668.54,107.16 L673.54,107.16 L671.04,111.29 Z" fill="#ff0000"/>
<path d="M398.30,204.95V199.75M398.30,6.80V12.00M405.19,204.95V202.35M405.19,6.80V9.40M412.07,204.95V202.35M412.07,6.80V9.40M418.96,204.95V202.35M418.96,6.80V9.40M425.85,204.95V199.75M425.85,6.80V12.00M432.74,204.95V202.35M432.74,6.80V9.40M439.62,204.95V202.35M439.62,6.80V9.40M446.51,204.95V202.35M446.51,6.80V9.40M453.40,204.95V199.75M453.40,6.80V12.00M460.29,204.95V202.35M460.29,6.80V9.40M467.18,204.95V202.35M467.18,6.80V9.40M474.06,204.95V202.35M474.06,6.80V9.40M480.95,204.95V199.75M480.95,6.80V12.00M487.84,204.95V202.35M487.84,6.80V9.40M494.72,204.95V202.35M494.72,6.80V9.40M501.61,204.95V202.35M501.61,6.80V9.40M508.50,204.95V199.75M508.50,6.80V12.00M515.39,204.95V202.35M515.39,6.80V9.40M522.27,204.95V202.35M522.27,6.80V9.40M529.16,204.95V202.35M529.16,6.80V9.40M536.05,204.95V199.75M536.05,6.80V12.00M542.94,204.95V202.35M542.94,6.80V9.40M549.83,204.95V202.35M549.83,6.80V9.40M556.71,204.95V202.35M556.71,6.80V9.40M563.60,204.95V199.75M563.60,6.80V12.00M570.49,204.95V202.35M570.49,6.80V9.40M577.38,204.95V202.35M577.38,6.80V9.40M584.26,204.95V202.35M584.26,6.80V9.40M591.15,204.95V199.75M591.15,6.80V12.00M598.04,204.95V202.35M598.04,6.80V9.40M604.92,204.95V202.35M604.92,6.80V9.40M611.81,204.95V202.35M611.81,6.80V9.40M618.70,204.95V199.75M618.70,6.80V12.00M625.59,204.95V202.35M625.59,6.80V9.40M632.47,204.95V202.35M632.47,6.80V9.40M639.36,204.95V202.35M639.36,6.80V9.40M646.25,204.95V199.75M646.25,6.80V12.00M653.14,204.95V202.35M653.14,6.80V9.40M660.02,204.95V202.35M660.02,6.80V9.40M666.91,204.95V202.35M666.91,6.80V9.40M673.80,204.95V199.75M673.80,6.80V12.00M398.30,199.90H402.30M673.80,199.90H669.80M398.30,194.95H402.30M673.80,194.95H669.80M398.30,190.00H402.30M673.80,190.00H669.80M398.30,185.05H406.30M673.80,185.05H665.80M398.30,180.10H402.30M673.80,180.10H669.80M398.30,175.15H402.30M673.80,175.15H669.80M398.30,170.20H402.30M673.80,170.20H669.80M398.30,165.25H406.30M673.80,165.25H665.80M398.30,160.30H402.30M673.80,160.30H669.80M398.30,155.35H402.30M673.80,155.35H669.80M398.30,150.40H402.30M673.80,150.40H669.80M398.30,145.45H406.30M673.80,145.45H665.80M398.30,140.50H402.30M673.80,140.50H669.80M398.30,135.55H402.30M673.80,135.55H669.80M398.30,130.60H402.30M673.80,130.60H669.80M398.30,125.65H406.30M673.80,125.65H665.80M398.30,120.70H402.30M673.80,120.70H669.80M398.30,115.75H402.30M673.80,115.75H669.80M398.30,110.80H402.30M673.80,110.80H669.80M398.30,105.85H406.30M673.80,105.85H665.80M398.30,100.90H402.30M673.80,100.90H669.80M398.30,95.95H402.30M673.80,95.95H669.80M398.30,91.00H402.30M673.80,91.00H669.80M398.30,86.05H406.30M673.80,86.05H665.80M398.30,81.10H402.30M673.80,81.10H669.80M398.30,76.15H402.30M673.80,76.15H669.80M398.30,71.20H402.30M673.80,71.20H669.80M398.30,66.25H406.30M673.80,66.25H665.80M398.30,61.30H402.30M673.80,61.30H669.80M398.30,56.35H402.30M673.80,56.35H669.80M398.30,51.40H402.30M673.80,51.40H669.80M398.30,46.45H406.30M673.80,46.45H665.80M398.30,41.50H402.30M673.80,41.50H669.80M398.30,36.55H402.30M673.80,36.55H669.80M398.30,31.60H402.30M673.80,31.60H669.80M398.30,26.65H406.30M673.80,26.65H665.80M398.30,21.70H402.30M673.80,21.70H669.80M398.30,16.75H402.30M673.80,16.75H669.80M398.30,11.80H402.30M673.80,11.80H669.80" stroke="#111" stroke-width="1" fill="none"/>
<rect x="398.30" y="6.80" width="275.50" height="198.15" stroke="#1a1a1a" stroke-width="1.1" fill="none"/>
<g font-size="11.5" fill="#111"><text x="42.80" y="215.60">0</text><text x="67.16" y="215.60"> 0</text><text x="94.72" y="215.60">20</text><text x="122.28" y="215.60">30</text><text x="149.84" y="215.60">40</text><text x="177.40" y="215.60">50</text><text x="204.96" y="215.60">60</text><text x="232.52" y="215.60">70</text><text x="260.08" y="215.60">80</text><text x="287.64" y="215.60">90</text><text x="312.01" y="215.60"> 00</text><text x="395.10" y="215.60">0</text><text x="419.45" y="215.60">20</text><text x="447.00" y="215.60">40</text><text x="474.55" y="215.60">60</text><text x="502.10" y="215.60">80</text><text x="526.46" y="215.60"> 00</text><text x="554.01" y="215.60"> 20</text><text x="581.56" y="215.60"> 40</text><text x="609.11" y="215.60"> 60</text><text x="636.66" y="215.60"> 80</text><text x="664.21" y="215.60">200</text><text x="21.10" y="196.16">−0.4</text><text x="21.10" y="169.68">−0.2</text><text x="37.40" y="143.20">0</text><text x="27.81" y="116.72">0.2</text><text x="27.81" y="90.24">0.4</text><text x="27.81" y="63.76">0.6</text><text x="27.81" y="37.28">0.8</text><text x="40.10" y="11.10"> </text><text x="383.49" y="208.95">− </text><text x="373.90" y="189.15">−0.8</text><text x="373.90" y="169.35">−0.6</text><text x="373.90" y="149.55">−0.4</text><text x="373.90" y="129.75">−0.2</text><text x="390.20" y="109.95">0</text><text x="380.61" y="90.15">0.2</text><text x="380.61" y="70.35">0.4</text><text x="380.61" y="50.55">0.6</text><text x="380.61" y="30.75">0.8</text><text x="392.90" y="11.25"> </text><path transform="translate(67.16,215.60) scale(0.005615,-0.005615)" d="M515,0H696V1409H530L197,1180V1010L515,1237Z"/><path transform="translate(312.01,215.60) scale(0.005615,-0.005615)" d="M515,0H696V1409H530L197,1180V1010L515,1237Z"/><path transform="translate(526.46,215.60) scale(0.005615,-0.005615)" d="M515,0H696V1409H530L197,1180V1010L515,1237Z"/><path transform="translate(554.01,215.60) scale(0.005615,-0.005615)" d="M515,0H696V1409H530L197,1180V1010L515,1237Z"/><path transform="translate(581.56,215.60) scale(0.005615,-0.005615)" d="M515,0H696V1409H530L197,1180V1010L515,1237Z"/><path transform="translate(609.11,215.60) scale(0.005615,-0.005615)" d="M515,0H696V1409H530L197,1180V1010L515,1237Z"/><path transform="translate(636.66,215.60) scale(0.005615,-0.005615)" d="M515,0H696V1409H530L197,1180V1010L515,1237Z"/><path transform="translate(40.10,11.10) scale(0.005615,-0.005615)" d="M515,0H696V1409H530L197,1180V1010L515,1237Z"/><path transform="translate(390.20,208.95) scale(0.005615,-0.005615)" d="M515,0H696V1409H530L197,1180V1010L515,1237Z"/><path transform="translate(392.90,11.25) scale(0.005615,-0.005615)" d="M515,0H696V1409H530L197,1180V1010L515,1237Z"/></g>
<text transform="translate(9.90,7.4) rotate(-90)" text-anchor="end" font-size="11.75" fill="#111">Linearity</text>
<text transform="translate(362.30,7.4) rotate(-90)" text-anchor="end" font-size="11.75" fill="#111">Linearity</text>
<text x="322.20" y="237.6" text-anchor="end" font-size="11.8" fill="#111">E<tspan font-size="8.2" dy="4.4" dx="-0.8">T</tspan><tspan font-size="8.5" dy="-11.2" dx="-4.6" textLength="34.2" lengthAdjust="spacingAndGlyphs">miss,True</tspan><tspan dy="6.8" dx="2.6">[GeV]</tspan></text>
<text x="674.10" y="237.6" text-anchor="end" font-size="11.8" fill="#111">E<tspan font-size="8.2" dy="4.4" dx="-0.8">T</tspan><tspan font-size="8.5" dy="-11.2" dx="-4.6" textLength="34.2" lengthAdjust="spacingAndGlyphs">miss,True</tspan><tspan dy="6.8" dx="2.6">[GeV]</tspan></text>
<text x="182.7" y="237.9" text-anchor="middle" style="font-family:'Liberation Serif', serif"  font-weight="bold" font-size="15" fill="#111">(a)</text>
<text x="535.2" y="237.9" text-anchor="middle" style="font-family:'Liberation Serif', serif"  font-weight="bold" font-size="15" fill="#111">(b)</text>
<line x1="143.70" y1="23.60" x2="158.40" y2="23.60" stroke="#000" stroke-width="1.0"/>
<circle cx="151.05" cy="23.60" r="2.36" fill="#000000"/>
<text x="162.00" y="26.00" font-size="9.2" font-weight="bold" fill="#111">CST</text>
<line x1="143.70" y1="34.05" x2="158.40" y2="34.05" stroke="#ff0000" stroke-width="1.0"/>
<path d="M148.43,32.21 L153.68,32.21 L151.05,36.54 Z" fill="#ff0000"/>
<text x="162.00" y="36.45" font-size="9.2" font-weight="bold" fill="#111">STVF</text>
<line x1="143.70" y1="44.50" x2="158.40" y2="44.50" stroke="#48a848" stroke-width="1.0"/>
<path d="M148.32,46.41 L153.78,46.41 L151.05,42.04 Z" fill="#00a000"/>
<text x="162.00" y="46.90" font-size="9.2" font-weight="bold" fill="#111">TST</text>
<line x1="143.70" y1="54.95" x2="158.40" y2="54.95" stroke="#20ffff" stroke-width="1.0"/>
<rect x="148.84" y="52.75" width="4.41" height="4.41" fill="#00ffff"/>
<text x="162.00" y="57.35" font-size="9.2" font-weight="bold" fill="#111">EJAF</text>
<line x1="143.70" y1="65.40" x2="158.40" y2="65.40" stroke="#7878ff" stroke-width="1.0"/>
<path d="M151.05,62.99 L152.98,65.40 L151.05,67.82 L149.12,65.40 Z" fill="#0000ff"/>
<text x="162.00" y="67.80" font-size="9.2" font-weight="bold" fill="#111">Track</text>
<line x1="486.10" y1="25.60" x2="501.50" y2="25.60" stroke="#000" stroke-width="1.0"/>
<circle cx="493.80" cy="25.60" r="2.36" fill="#000000"/>
<text x="505.10" y="28.00" font-size="9.2" font-weight="bold" fill="#111">CST</text>
<line x1="486.10" y1="36.22" x2="501.50" y2="36.22" stroke="#ff0000" stroke-width="1.0"/>
<path d="M491.18,34.38 L496.43,34.38 L493.80,38.71 Z" fill="#ff0000"/>
<text x="505.10" y="38.62" font-size="9.2" font-weight="bold" fill="#111">STVF</text>
<line x1="486.10" y1="46.84" x2="501.50" y2="46.84" stroke="#48a848" stroke-width="1.0"/>
<path d="M491.07,48.75 L496.53,48.75 L493.80,44.38 Z" fill="#00a000"/>
<text x="505.10" y="49.24" font-size="9.2" font-weight="bold" fill="#111">TST</text>
<line x1="486.10" y1="57.46" x2="501.50" y2="57.46" stroke="#20ffff" stroke-width="1.0"/>
<rect x="491.60" y="55.26" width="4.41" height="4.41" fill="#00ffff"/>
<text x="505.10" y="59.86" font-size="9.2" font-weight="bold" fill="#111">EJAF</text>
<line x1="486.10" y1="68.08" x2="501.50" y2="68.08" stroke="#7878ff" stroke-width="1.0"/>
<path d="M493.80,65.66 L495.73,68.08 L493.80,70.50 L491.87,68.08 Z" fill="#0000ff"/>
<text x="505.10" y="70.48" font-size="9.2" font-weight="bold" fill="#111">Track</text>
<text x="200.10" y="24.1" font-size="12.5" font-weight="bold" font-style="italic" fill="#111">ATLAS</text>
<text x="248.70" y="24.1" font-size="12.9" fill="#111">Simulation</text>
<path d="M202.20,38.8 L204.00,30.7 L208.40,30.7" stroke="#222" stroke-width="0.85" fill="none"/>
<path d="M201.60,33.5 L202.20,38.8" stroke="#222" stroke-width="1.5" fill="none"/>
<text x="204.30" y="38.9" font-size="9.3" fill="#222" textLength="39.3" lengthAdjust="spacingAndGlyphs">s = 8 TeV</text>
<text x="199.80" y="51.50" font-size="9.1" fill="#222">W</text>
<path d="M208.30,49.40H215.90M213.70,47.90L216.20,49.40L213.70,50.90" stroke="#333" stroke-width="0.8" fill="none"/>
<text x="216.40" y="51.50" font-size="9.1" fill="#222" textLength="10.7" lengthAdjust="spacingAndGlyphs">μν</text>
<text x="229.90" y="51.50" font-size="9.1" fill="#222">+ 0-jet</text>
<text x="552.20" y="24.1" font-size="12.5" font-weight="bold" font-style="italic" fill="#111">ATLAS</text>
<text x="600.80" y="24.1" font-size="12.9" fill="#111">Simulation</text>
<path d="M554.30,38.8 L556.10,30.7 L560.50,30.7" stroke="#222" stroke-width="0.85" fill="none"/>
<path d="M553.70,33.5 L554.30,38.8" stroke="#222" stroke-width="1.5" fill="none"/>
<text x="556.40" y="38.9" font-size="9.3" fill="#222" textLength="39.3" lengthAdjust="spacingAndGlyphs">s = 8 TeV</text>
<text x="551.90" y="49.00" font-size="9.1" fill="#222">W</text>
<path d="M560.40,46.90H568.00M565.80,45.40L568.30,46.90L565.80,48.40" stroke="#333" stroke-width="0.8" fill="none"/>
<text x="568.50" y="49.00" font-size="9.1" fill="#222" textLength="10.7" lengthAdjust="spacingAndGlyphs">μν</text>
<text x="582.00" y="49.00" font-size="9.1" fill="#222">Inclusive</text>
</svg></body></html>
